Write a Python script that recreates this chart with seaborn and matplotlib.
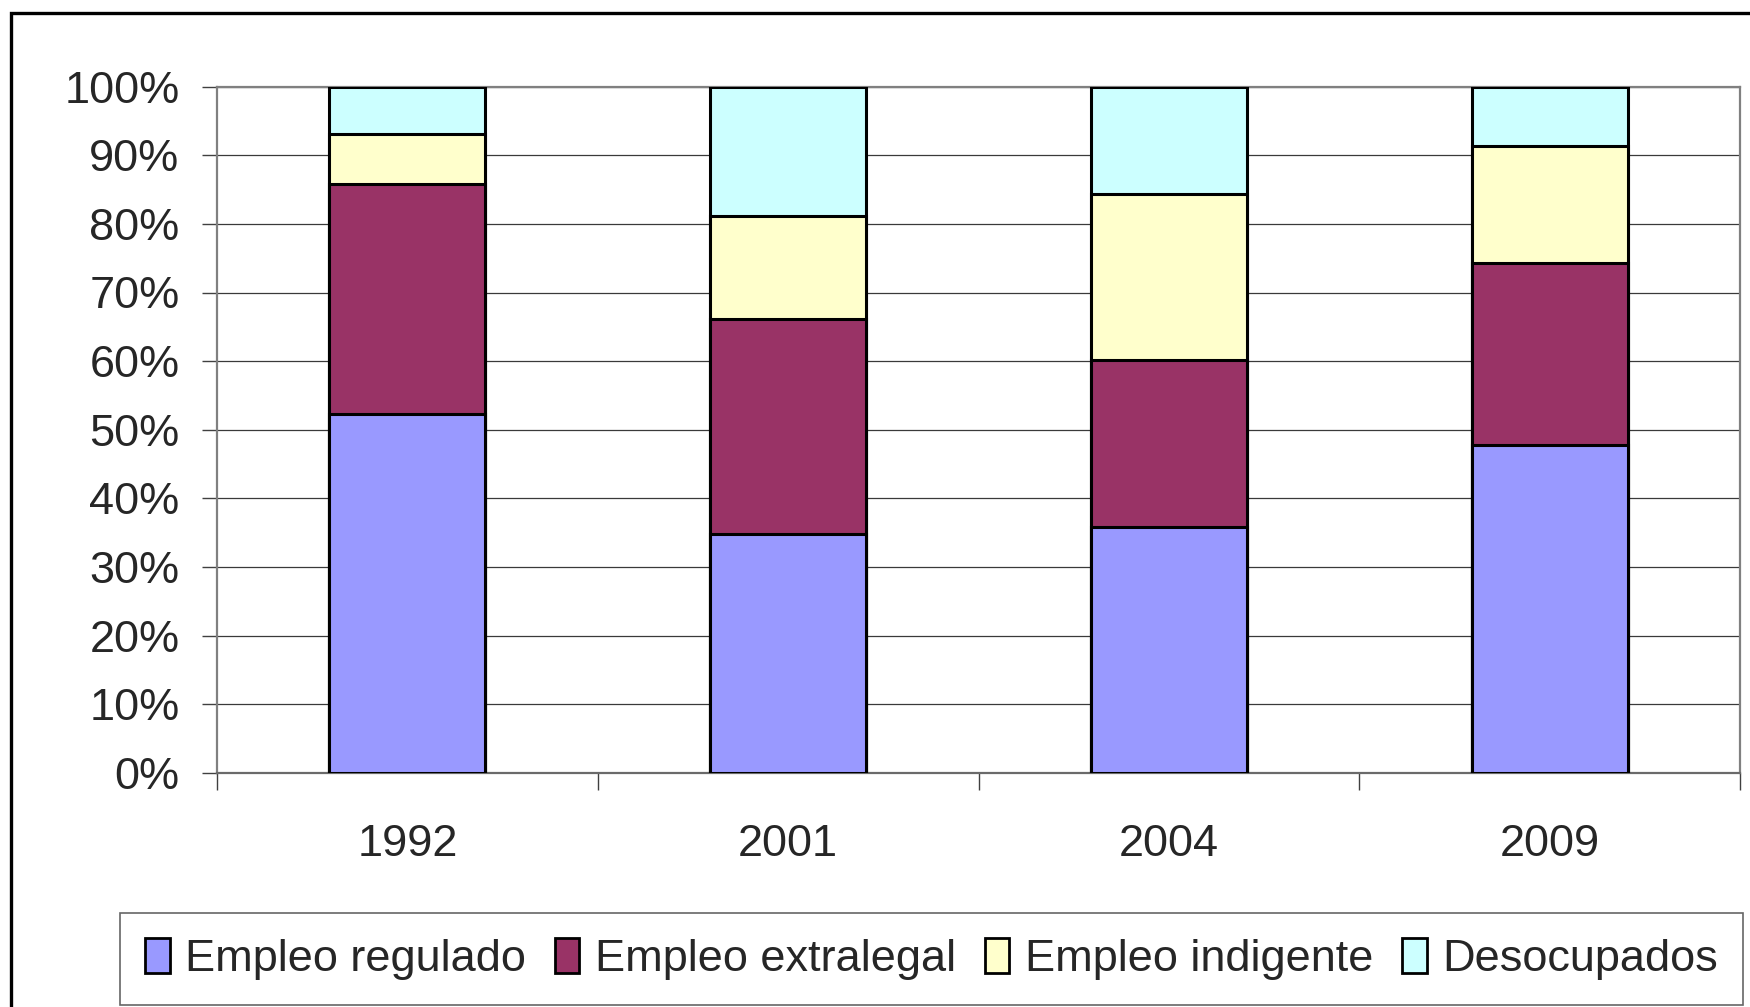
import matplotlib
matplotlib.use('Agg')
import matplotlib.pyplot as plt
import matplotlib.patches as mpatches
from matplotlib import font_manager
from matplotlib.ticker import PercentFormatter, FixedLocator
import seaborn as sns
import pandas as pd

# Data (percent shares per year)
years = ['1992', '2001', '2004', '2009']
series = ['Empleo regulado', 'Empleo extralegal', 'Empleo indigente', 'Desocupados']
regulado = [52.3, 34.8, 35.8, 47.7]
extralegal = [33.5, 31.3, 24.3, 26.6]
indigente = [7.3, 15.1, 24.3, 17.1]
desocupados = [6.9, 18.8, 15.6, 8.6]
colors = ['#9999FF', '#993366', '#FFFFCC', '#CCFFFF']

df = pd.DataFrame({'Year': years, series[0]: regulado, series[1]: extralegal,
                   series[2]: indigente, series[3]: desocupados})
cum = df[series].cumsum(axis=1)
cum['Year'] = df['Year']

sns.set_theme(style='white')
names = {f.name for f in font_manager.fontManager.ttflist}
if 'Liberation Sans Narrow' in names:
    fam = ['Liberation Sans Narrow', 'DejaVu Sans']
    fs = 37
else:
    fam = ['Liberation Sans', 'DejaVu Sans']
    fs = 32.5
plt.rcParams['font.family'] = fam

fig = plt.figure(figsize=(17.5, 10.07), dpi=100)
ax = fig.add_axes([217 / 1750, 1 - 772.7 / 1007, (1740 - 217) / 1750, (772.7 - 86.7) / 1007])

# stacked bars: draw cumulative totals from the top down
for s, c in reversed(list(zip(series, colors))):
    sns.barplot(data=cum, x='Year', y=s, color=c, width=0.41, edgecolor='black',
                linewidth=2.2, saturation=1, ax=ax, zorder=3)

ax.set_xlim(-0.5, 3.5)
ax.set_ylim(0, 100)
ax.set_xlabel('')
ax.set_ylabel('')
ax.yaxis.set_major_locator(FixedLocator(range(0, 101, 10)))
ax.yaxis.set_major_formatter(PercentFormatter(decimals=0))
ax.grid(axis='y', color='#3a3a3a', linewidth=0.9, zorder=0)
ax.set_axisbelow(True)

for sp in ax.spines.values():
    sp.set_color('#808080')
    sp.set_linewidth(1.6)
ax.spines['bottom'].set_color('#6a6a6a')

ax.tick_params(axis='y', which='major', length=11, width=1, color='#404040',
               direction='out', pad=16, labelsize=fs, left=True)
ax.xaxis.set_minor_locator(FixedLocator([-0.5, 0.5, 1.5, 2.5, 3.5]))
ax.tick_params(axis='x', which='minor', length=12, width=1, color='#404040',
               direction='out', bottom=True)
ax.tick_params(axis='x', which='major', length=0, pad=37, labelsize=fs)

handles = [mpatches.Rectangle((0, 0), 1, 1, facecolor=c, edgecolor='black', linewidth=2.0)
           for c in colors]
leg = fig.legend(handles, series, loc='lower left', ncol=4, mode='expand',
                 bbox_to_anchor=(120 / 1750, 1 - 1005 / 1007, (1743 - 120) / 1750, 84 / 1007),
                 fontsize=fs, frameon=True, fancybox=False, borderaxespad=0,
                 handlelength=0.55, handleheight=0.8, handletextpad=0.35,
                 borderpad=0.55)
leg.get_frame().set_edgecolor('#404040')
leg.get_frame().set_linewidth(1.2)

# outer chart frame
fig.patches.append(mpatches.Rectangle((11 / 1750, -0.05), 1.1, 1 - 13 / 1007 + 0.05,
                                      transform=fig.transFigure, fill=False,
                                      edgecolor='black', linewidth=2.4))

fig.savefig('out.png', dpi=100)
